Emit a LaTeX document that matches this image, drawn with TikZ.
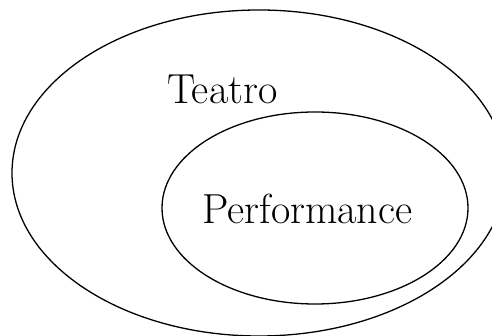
\documentclass[tikz,border=0pt]{standalone}
\usetikzlibrary{shapes.geometric}
\tikzset{
    setbox/.style={draw, ellipse, line width=1.3pt, inner sep=0pt},
    setlabel/.style={anchor=base west, inner sep=0pt, font=\fontsize{42}{50}\selectfont},
}
\begin{document}
\begin{tikzpicture}[x=1pt,y=1pt]
        \useasboundingbox (0,0) rectangle (492,336);
        \clip (0,0) rectangle (492,336);
        % Draw sets.
        \node[setbox, minimum width=494pt, minimum height=326pt] (teatro) at (259,163) {};
        \node[setbox, minimum width=306pt, minimum height=192pt] (performance) at (315,128) {};
        % Labels.
        \node[setlabel] (teatrolabel) at (167,232) {Teatro};
        \node[setlabel] (performancelabel) at (202,112) {Performance};
    \end{tikzpicture}
\end{document}
